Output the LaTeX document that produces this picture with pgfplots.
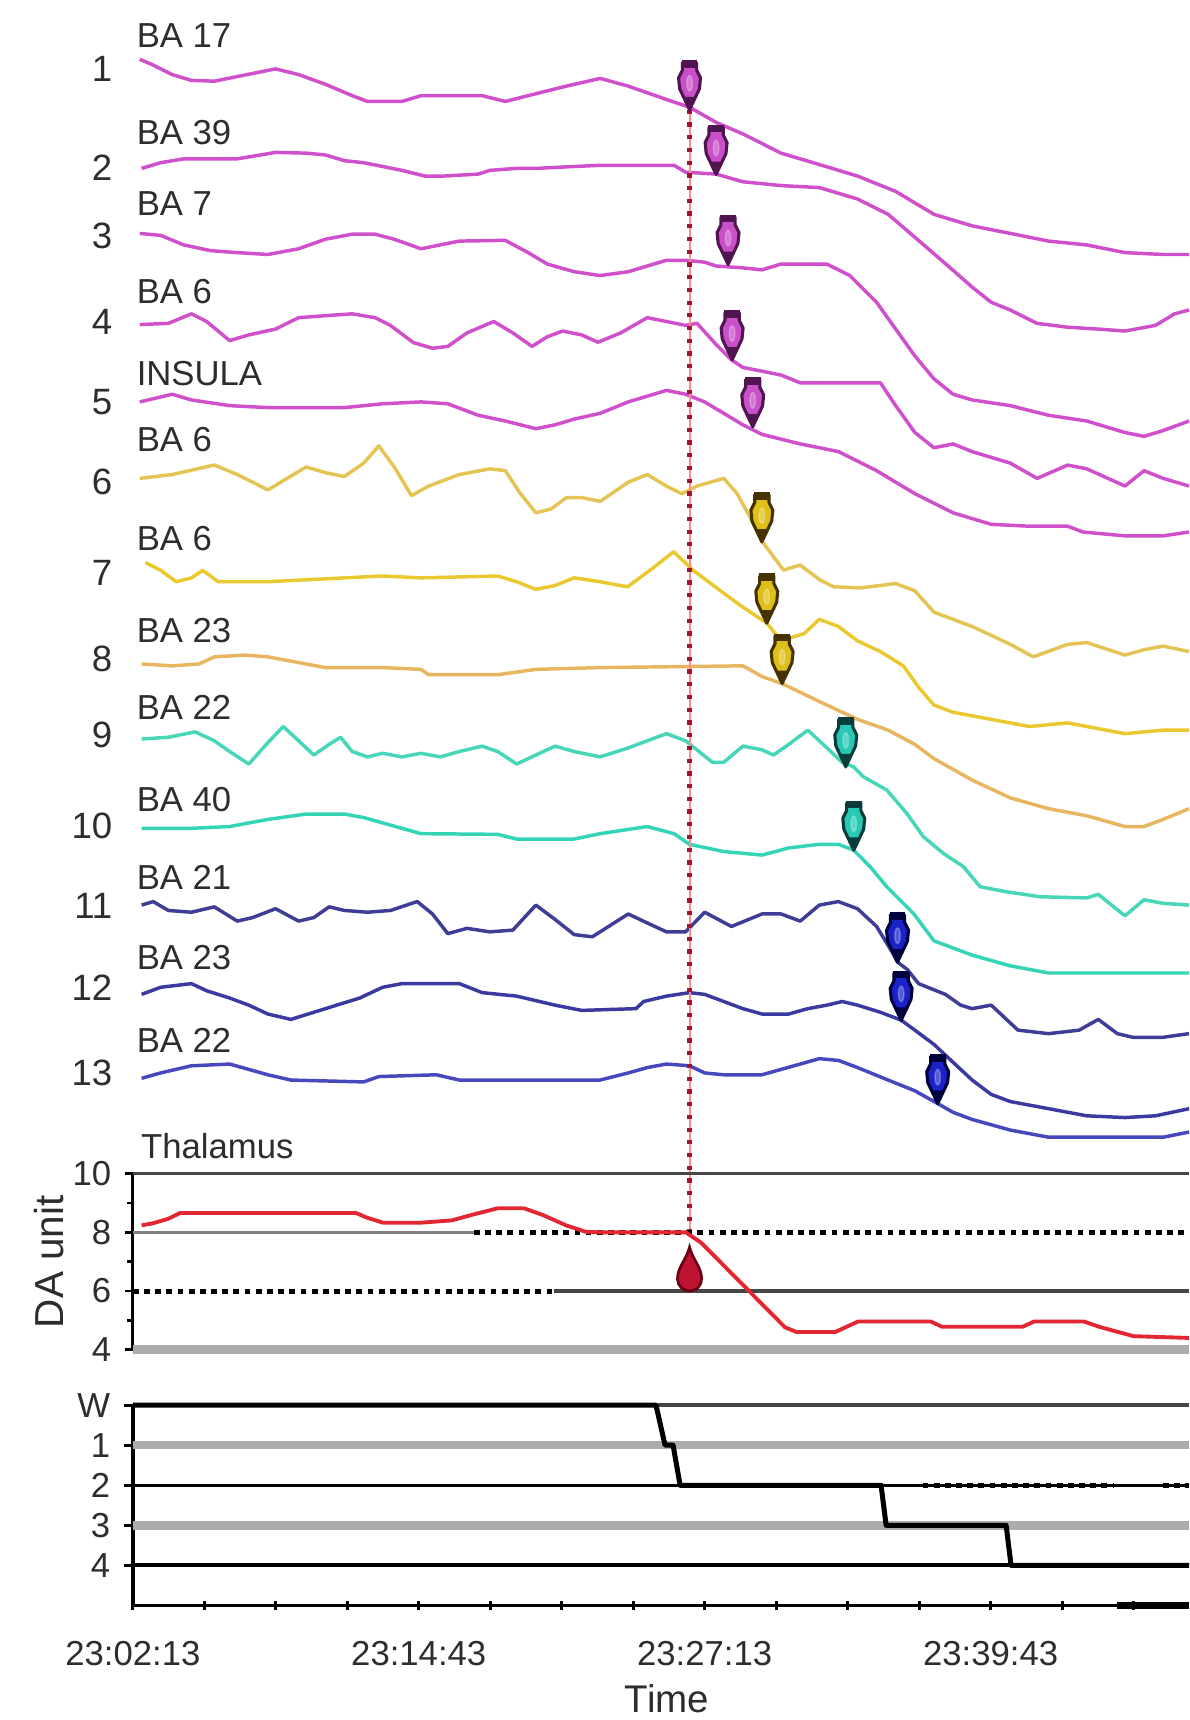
\documentclass[border=0pt]{standalone}
\usepackage{pgfplots}
\pgfplotsset{compat=1.18}
\usepackage{fontspec}
\setmainfont{Liberation Sans}
\definecolor{txt}{RGB}{45,45,45}
\definecolor{cM}{RGB}{208,80,204}
\definecolor{cY1}{RGB}{228,196,84}
\definecolor{cY2}{RGB}{234,200,48}
\definecolor{cY3}{RGB}{232,182,96}
\definecolor{cC1}{RGB}{72,214,184}
\definecolor{cC2}{RGB}{52,212,182}
\definecolor{cB1}{RGB}{62,62,150}
\definecolor{cB2}{RGB}{58,58,160}
\definecolor{cB3}{RGB}{72,72,190}
\definecolor{pMf}{RGB}{200,80,200}\definecolor{pMd}{RGB}{80,20,80}
\definecolor{pYf}{RGB}{222,192,24}\definecolor{pYd}{RGB}{70,50,0}
\definecolor{pCf}{RGB}{40,200,180}\definecolor{pCd}{RGB}{10,60,60}
\definecolor{pBf}{RGB}{25,35,200}\definecolor{pBd}{RGB}{0,0,60}
\definecolor{pRf}{RGB}{190,20,50}\definecolor{pRd}{RGB}{110,0,20}
\definecolor{thal}{RGB}{225,40,50}
\definecolor{vline}{RGB}{160,20,50}
\definecolor{gridD}{RGB}{70,70,70}
\definecolor{gridL}{RGB}{172,172,172}
\newcommand{\defpin}[3]{%
  \pgfdeclareplotmark{#1}{%
    \filldraw[fill=#2, draw=#3, line width=0.8pt, line join=round]
      (0cm,0cm) -- (-0.09cm,0.19cm) -- (-0.10cm,0.29cm) -- (-0.065cm,0.36cm)
      -- (-0.065cm,0.43cm) -- (0.065cm,0.43cm) -- (0.065cm,0.36cm) -- (0.10cm,0.29cm)
      -- (0.09cm,0.19cm) -- cycle;
    \fill[#3] (0cm,0cm) -- (-0.05cm,0.11cm) -- (0.05cm,0.11cm) -- cycle;
    \fill[#3] (-0.065cm,0.39cm) rectangle (0.065cm,0.445cm);
    \fill[white, opacity=0.25] (0cm,0.24cm) ellipse (0.025cm and 0.07cm);
  }}
\defpin{pinM}{pMf}{pMd}
\defpin{pinY}{pYf}{pYd}
\defpin{pinC}{pCf}{pCd}
\defpin{pinB}{pBf}{pBd}
\pgfdeclareplotmark{dropR}{%
  \filldraw[fill=pRf, draw=pRd, line width=0.7pt]
    (0cm,0.40cm) .. controls (-0.03cm,0.28cm) and (-0.11cm,0.22cm) .. (-0.11cm,0.11cm)
    arc[start angle=180, end angle=360, radius=0.11cm]
    .. controls (0.11cm,0.22cm) and (0.03cm,0.28cm) .. (0cm,0.40cm) -- cycle;
}
\begin{document}
\begin{tikzpicture}
\path[use as bounding box] (0,0) rectangle (10.84,15.68);
% ---------------- traces ----------------
\begin{axis}[at={(1.211cm,0cm)}, anchor=south west, scale only axis,
  width=9.629cm, height=15.68cm, xmin=121.1, xmax=1084, ymin=0, ymax=1568,
  y dir=reverse, axis line style={draw=none}, xtick=\empty,
  ytick={63,153,215,293,367,439,522,601,670,753,826,900,978},
  yticklabels={1,2,3,4,5,6,7,8,9,10,11,12,13},
  ytick style={draw=none},
  yticklabel style={anchor=east, inner sep=0pt, xshift=-0.18cm, font=\fontsize{9.5}{10}\selectfont, text=txt},
  clip=false]
\addplot[cM, line width=0.9pt, line join=round] coordinates {(127.4,54.1)(139.6,59.3)(157,68)(174.5,73.3)(195.4,74)(216.3,69.8)(251.2,62.8)(272.2,68)(296.6,76.8)(321,87.2)(335,92.5)(366.4,92.5)(383.8,87.2)(418.7,87.2)(439.6,87.2)(460.6,92.5)(481.5,87.2)(495.4,83.7)(516.4,78.5)(547.1,71.5)(572.7,78.5)(607.5,90.7)(628.5,97.7)(652.8,111.6)(677.2,122.1)(712,139.6)(746.9,150)(781.7,160.5)(816.5,174.5)(851.4,195.4)(886.2,205.9)(921,212.8)(955.9,219.8)(990.7,223.3)(1025.5,230.3)(1060.3,232)(1084,232)};
\addplot[cM, line width=0.9pt, line join=round] coordinates {(129.1,153.5)(146.5,148.3)(167.5,144.8)(191.9,144.8)(216.3,144.8)(237.3,141.3)(251.2,138.9)(279.1,139.6)(296.6,141.3)(314,146.5)(331.5,148.3)(348.9,151.8)(366.4,155.3)(387.3,160.5)(404.7,160.5)(436.1,158.7)(446.6,155.3)(471,153.5)(488.5,153.5)(523.4,151.8)(547.1,150.7)(614.5,150.7)(625,157)(652.8,158.7)(677.2,165.7)(712,169.2)(746.9,171)(781.7,181.4)(809.6,195.4)(834,216.3)(858.3,237.3)(886.2,261.7)(903.6,275.6)(921,282.6)(945.4,294.8)(973.3,298.3)(1001.2,300)(1025.5,301.8)(1053.4,296.6)(1070.8,286.1)(1084,282.6)};
\addplot[cM, line width=0.9pt, line join=round] coordinates {(127.4,212.8)(146.5,214.6)(167.5,223.3)(191.9,228.5)(216.3,230.3)(244.2,232)(272.2,226.8)(296.6,218.1)(321,213.5)(341.9,213.5)(359.4,218.1)(383.8,226.8)(401.2,223.3)(418.7,219.8)(460.6,219.1)(481.5,230.3)(498.9,240.7)(523.4,247.7)(547.1,251.2)(572.7,247.7)(607.5,237.3)(625,237.3)(642.4,239)(652.8,242.5)(677.2,244.2)(694.6,246)(712,240.7)(753.8,240.7)(774.7,251.2)(799.1,275.6)(816.5,300)(834,324.5)(851.4,345.4)(868.8,359.4)(886.2,364.6)(921,369.8)(955.9,378.6)(990.7,383.8)(1025.5,394.3)(1042.9,397.8)(1060.3,392.5)(1084,383.8)};
\addplot[cM, line width=0.9pt, line join=round] coordinates {(127.4,295.9)(153.5,294.8)(174.5,286.1)(188.4,293.1)(209.3,310.5)(226.8,305.3)(251.2,300)(272.2,289.6)(296.6,287.8)(321,286.1)(341.9,289.6)(355.9,296.6)(376.8,312.3)(394.3,317.5)(408.2,315.8)(425.7,303.5)(450.1,293.1)(467.5,303.5)(485,315.8)(498.9,307)(512.9,301.8)(530.3,305.3)(545,312)(565.8,303.5)(590.1,289.6)(607.5,293.1)(625,296.6)(635.4,294.8)(652.8,314)(666.8,328)(677.2,335)(694.6,338.4)(712,341.9)(729.5,349)(753.8,349)(781.7,349)(802.6,349)(816.5,369.8)(834,394.3)(851.4,408.2)(868.8,404.7)(886.2,411.7)(921,422.2)(945.4,436.1)(973.3,424)(990.7,427.4)(1025.5,443.1)(1042.9,429.1)(1060.3,436.1)(1084,443.1)};
\addplot[cM, line width=0.9pt, line join=round] coordinates {(127.4,366.4)(157,359.4)(174.5,364.6)(209.3,369.8)(244.2,371.6)(279.1,371.6)(314,371.6)(348.9,368.1)(383.8,366.4)(408.2,368.1)(436.1,378.6)(460.6,383.8)(488.5,390.8)(505.9,387.3)(523.4,382.1)(547.1,376.8)(572.7,366.4)(607.5,355.9)(625,359.4)(642.4,366.4)(659.8,376.8)(677.2,387.3)(694.6,396)(729.5,404.7)(764.3,411.7)(799.1,429.1)(833.9,450)(868.8,467.5)(903.6,478)(938.4,479.7)(973.3,479.7)(987.2,485)(1025.5,488.5)(1060.3,488.5)(1084,485)};
\addplot[cY1, line width=0.9pt, line join=round] coordinates {(127.4,436.1)(157,432.6)(195.4,423.9)(216.3,432.6)(244.2,446.6)(279.1,425.7)(296.6,430.9)(314,434.4)(331.5,422.2)(345.4,406.5)(359.4,425.7)(375.1,451.8)(390.8,443.1)(418.7,432.6)(446.6,427.4)(460.6,429.1)(474.5,450.1)(488.5,467.5)(502.4,464)(516.4,453.6)(530.3,453.6)(547.1,457.1)(572.7,439.6)(590.1,432.6)(607.5,443.1)(621.5,450.1)(635.4,443.1)(659.8,436.1)(672,450)(684,472)(694.4,493)(714.2,519.7)(729.4,515.1)(747.6,528.8)(759.8,534.9)(784,536)(816.5,532)(834,538.6)(851.4,558.1)(886.2,571.1)(921,587.4)(941.9,598.8)(973.3,587.4)(990.7,585.8)(1025.5,597.2)(1042.9,592.3)(1060.3,589)(1084,594)};
\addplot[cY2, line width=0.9pt, line join=round] coordinates {(132.6,512.9)(146.5,519.9)(160.5,530.3)(174.5,526.8)(184.9,519.9)(198.9,530.3)(244.2,530.3)(314,526.8)(348.9,525.1)(383.8,526.8)(453.6,525.1)(471,530.3)(488.5,537.3)(505.9,533.8)(523.4,526.8)(547.1,530.3)(572,535)(595,518)(614,503)(632,520)(652,535)(675,552)(699,568)(712,584.2)(733,577.6)(746.9,564.6)(764.3,571.1)(781.7,584.2)(802.6,594)(823.5,607)(837.4,626.5)(851.4,642.8)(868.8,649.3)(903.6,655.8)(938.4,662.3)(973.3,659)(990.7,662.3)(1025.5,668.8)(1060.3,665.6)(1084,665.6)};
\addplot[cY3, line width=0.9pt, line join=round] coordinates {(129.1,605.3)(157,607)(181.4,605.3)(195.4,598.8)(223.3,597.2)(244.2,598.8)(279.1,605.3)(296.6,608.6)(348.9,608.6)(383.8,610.2)(390.8,615.1)(453.6,615.1)(488.5,610.2)(547.1,608.6)(677.2,607)(694.6,616.7)(713,623.2)(746.9,639.5)(781.7,655.8)(809.6,665.6)(834,678.6)(851.4,691.6)(886.2,711.1)(921,727.4)(955.9,737.2)(990.7,743.7)(1025.5,753.5)(1042.9,753.5)(1060.3,747)(1084,737.2)};
\addplot[cC1, line width=0.9pt, line join=round] coordinates {(129.1,673.7)(153.5,672.1)(177.9,667.2)(195.4,675.3)(209.3,685.1)(226.8,696.5)(244.2,677)(258.2,662.3)(272.2,675.3)(286.1,688.3)(300,678.6)(310.5,672.1)(321,685.1)(335,690)(348.9,686.7)(366.4,690)(383.8,686.7)(401.2,690)(418.7,685.1)(439.6,680.2)(453.6,685.1)(471,696.5)(488.5,688.3)(505.9,680.2)(523.4,685.1)(547.1,690)(572.7,681.8)(607.5,668.8)(625,675.3)(649.4,694.9)(659.8,694.9)(677.2,680.2)(694.6,683.5)(705.1,688.3)(719,678.6)(736.4,665.6)(753.8,681.8)(767.8,695)(778,699)(787.1,708.1)(808.4,720.2)(826.6,741.5)(841.8,762.8)(860,778)(878.3,790.1)(893.5,808.4)(917.8,813)(948.2,817.5)(990.7,818.6)(1001.2,815.3)(1025.5,834.9)(1042.9,820.2)(1060.3,823.5)(1084,825.1)};
\addplot[cC2, line width=0.9pt, line join=round] coordinates {(129.1,755.1)(174.5,755.1)(209.3,753.5)(244.2,747)(279.1,742.1)(314,742.1)(331.5,745.3)(348.9,750.2)(383.8,760)(453.6,760.6)(471,764.9)(523.4,764.9)(547.1,760)(590.1,753.5)(614.5,760)(628.5,769.7)(659.8,776.3)(694.6,779.5)(719,773)(746.9,769.7)(764.3,769.7)(778.2,775)(793.2,790.1)(808.4,808.4)(820.5,820.5)(832.7,832.7)(851.4,857.7)(886.2,870.7)(921,880.5)(955.9,887)(1025.5,887)(1084,887)};
\addplot[cB1, line width=0.9pt, line join=round] coordinates {(129.1,825.1)(139.6,821.9)(153.5,830)(174.5,831.6)(195.4,826.7)(216.3,839.7)(230.3,836.5)(251.2,828.4)(272.2,839.7)(286.1,836.5)(300,826.7)(314,830)(335,831.6)(355.9,830)(380.3,821.9)(394.3,833.2)(408.2,851.1)(425.7,846.3)(446.6,849.5)(467.5,847.9)(488.5,825.1)(505.9,838.1)(523.4,852)(540,854)(572.7,833.2)(590.1,841.4)(607.5,849.5)(625,849.5)(642.4,831.6)(666.8,844.6)(694.6,833.2)(712,833.2)(729.5,839.7)(746.9,825.1)(764.3,821.9)(781.7,828.4)(799.1,844.6)(813,867.4)(818.3,877.2)(827,883.7)(837.4,896.7)(861.8,906.5)(875.8,916.3)(886.2,919.5)(903.6,916.3)(928,939.1)(955.9,942.3)(983.8,939.1)(1001.2,929.3)(1018.6,942.3)(1032.5,945.6)(1060.3,945.6)(1084,942.3)};
\addplot[cB2, line width=0.9pt, line join=round] coordinates {(129.1,906.5)(146.5,900)(174.5,896.7)(188.4,903.2)(209.3,909.8)(226.8,916.3)(244.2,924.4)(265.2,929.3)(286.1,922.8)(307,916.3)(328,909.8)(348.9,900)(366.4,896.7)(418.7,896.7)(439.6,904.9)(471,908.1)(505.9,916.3)(530.3,921.1)(579.7,919.5)(586.7,913)(607.5,908.1)(628.5,904.9)(642.4,906.5)(659.8,913)(677.2,919.5)(694.6,924.4)(719,924.4)(736.4,919.5)(753.8,916.3)(767.8,913)(781.7,916.3)(802.6,922.8)(821.5,930)(834,939.1)(851.4,952.1)(868.8,968.4)(886.2,984.6)(903.6,997.7)(921,1004.2)(955.9,1010.7)(990.7,1017.2)(1025.5,1018.8)(1053.4,1017.2)(1084,1010.7)};
\addplot[cB3, line width=0.9pt, line join=round] coordinates {(129.1,983)(146.5,978.1)(174.5,971.6)(209.3,970)(226.8,974.9)(244.2,979.8)(265.2,984.6)(331.5,986.3)(345.4,981.4)(397.8,979.8)(418.7,984.6)(547.1,984.6)(572.7,978.1)(590.1,973.2)(607.5,970)(628.5,971.6)(642.4,978.1)(659.8,979.8)(694.6,979.8)(712,974.9)(729.5,970)(746.9,965.1)(764.3,966.7)(781.7,973.2)(809.6,984.6)(834,994.4)(854.8,1006)(868.8,1014)(886.2,1020.5)(921,1030.2)(955.9,1036.7)(1025.5,1036.7)(1060.3,1036.7)(1084,1032)};
% onset line
\addplot[red!45, line width=0.5pt] coordinates {(628.6,100) (628.6,1123.5)};
\addplot[vline, line width=1.1pt, dash pattern=on 1.1pt off 2.2pt] coordinates {(628.6,100) (628.6,1123.5)};
% onset markers
\addplot[only marks, mark=pinM] coordinates {(628.6,100)(652.8,159)(663.7,241)(667.4,328)(686.2,389)};
\addplot[only marks, mark=pinY] coordinates {(694.5,494)(699,568)(713,623)};
\addplot[only marks, mark=pinC] coordinates {(771,699)(778.3,775)};
\addplot[only marks, mark=pinB] coordinates {(818.2,877)(821.5,930)(854.8,1006)};
% region names
\begin{scope}[every node/.style={anchor=west, inner sep=0pt, text=txt, font=\fontsize{9}{10}\selectfont}]
\node at (axis cs:124,32) {BA 17};
\node at (axis cs:124,121) {BA 39};
\node at (axis cs:124,186) {BA 7};
\node at (axis cs:124,266) {BA 6};
\node at (axis cs:124,341) {INSULA};
\node at (axis cs:124,401) {BA 6};
\node at (axis cs:124,491) {BA 6};
\node at (axis cs:124,575) {BA 23};
\node at (axis cs:124,645) {BA 22};
\node at (axis cs:124,729) {BA 40};
\node at (axis cs:124,800) {BA 21};
\node at (axis cs:124,873) {BA 23};
\node at (axis cs:124,948) {BA 22};
\end{scope}
\end{axis}
% ---------------- thalamus ----------------
\begin{axis}[at={(1.211cm,3.376cm)}, anchor=south west, scale only axis,
  width=9.629cm, height=1.604cm, xmin=121.1, xmax=1084, ymin=4, ymax=10,
  axis x line=none, axis y line*=left, axis line style={-, black, line width=0.8pt},
  ytick={4,6,8,10}, yticklabels={4,6,8,10}, minor ytick={5,7,9},
  tick align=outside, major tick length=0.07cm, minor tick length=0.05cm,
  tick style={black, line width=0.7pt},
  yticklabel style={anchor=east, inner sep=0pt, xshift=-0.12cm, font=\fontsize{9}{10}\selectfont, text=txt},
  /pgf/number format/assume math mode=true, clip=false]
\addplot[gridD, line width=0.9pt] coordinates {(121.1,10) (1084,10)};
\addplot[gray, line width=0.6pt] coordinates {(121.1,8) (432,8)};
\addplot[black, line width=1.3pt, dash pattern=on 1.5pt off 1.4pt] coordinates {(432,8) (1084,8)};
\addplot[black, line width=1.3pt, dash pattern=on 1.5pt off 1.4pt] coordinates {(121.1,6) (505,6)};
\addplot[gridD, line width=0.8pt] coordinates {(505,6) (1084,6)};
\addplot[gridL, line width=2.2pt] coordinates {(121.1,4) (1084,4)};
\addplot[thal, line width=1pt, line join=round] coordinates {(129.1,8.24)(139.5,8.31)(153.2,8.46)(164.1,8.66)(324.6,8.66)(334.6,8.50)(349.2,8.33)(383.8,8.33)(412.1,8.41)(429.4,8.59)(453.6,8.82)(477.7,8.82)(495,8.59)(516,8.24)(533.8,8.02)(547,8.0)(625.2,8.0)(639.1,7.65)(715.7,4.76)(726.4,4.6)(761.3,4.6)(782.2,4.96)(848.4,4.96)(858.8,4.78)(932.2,4.78)(942.7,4.96)(988,4.96)(1002,4.78)(1033.3,4.46)(1084,4.40)};
\addplot[only marks, mark=dropR] coordinates {(628.6,6.0)};
\node[anchor=base west, inner sep=0pt, text=txt, font=\fontsize{9}{10}\selectfont] at (axis cs:128,10) [yshift=0.14cm] {Thalamus};
\node[rotate=90, anchor=center, inner sep=0pt, text=txt, font=\fontsize{10.5}{11}\selectfont] at ([xshift=-0.76cm]rel axis cs:0,0.5) {DA unit};
\end{axis}
% ---------------- hypnogram ----------------
\begin{axis}[at={(1.211cm,1.044cm)}, anchor=south west, scale only axis,
  width=9.629cm, height=1.826cm, xmin=121.1, xmax=1084, ymin=-5, ymax=0,
  axis x line*=bottom, axis y line*=left, axis line style={-, black, line width=0.9pt},
  xtick={121.1,186.26,251.42,316.58,381.74,446.9,512.06,577.22,642.38,707.54,772.7,837.86,903.02,968.18,1033.34},
  xticklabels={23:02:13,,,,23:14:43,,,,23:27:13,,,,23:39:43,,},
  ytick={0,-1,-2,-3,-4}, yticklabels={W,1,2,3,4},
  x tick style={black, line width=0.8pt}, y tick style={black, line width=0.7pt},
  xtick align=center, ytick align=outside, major tick length=0.08cm,
  xticklabel style={anchor=center, inner sep=0pt, yshift=-0.40cm, font=\fontsize{9}{10}\selectfont, text=txt},
  yticklabel style={anchor=east, inner sep=0pt, xshift=-0.12cm, font=\fontsize{9}{10}\selectfont, text=txt},
  clip=false]
\addplot[gridD, line width=0.9pt] coordinates {(121.1,0) (1084,0)};
\addplot[gridL, line width=2pt] coordinates {(121.1,-1) (1084,-1)};
\addplot[black, line width=0.7pt] coordinates {(121.1,-2) (1084,-2)};
\addplot[black, line width=1.4pt, dash pattern=on 1.5pt off 1.4pt] coordinates {(841,-2) (1015,-2)};
\addplot[black, line width=1.4pt, dash pattern=on 1.5pt off 1.4pt] coordinates {(1060,-2) (1084,-2)};
\addplot[gridL, line width=2.2pt] coordinates {(121.1,-3) (1084,-3)};
\addplot[black, line width=1pt] coordinates {(121.1,-4) (1084,-4)};
\addplot[black, line width=1.3pt, line join=round] coordinates {(121.1,0)(598,0)(606.3,-1)(613.6,-1)(620,-2)(803.2,-2)(807.8,-3)(917.2,-3)(921.7,-4)(1084,-4)};
\addplot[black, line width=1.8pt] coordinates {(1018,-5) (1084,-5)};
\node[anchor=center, inner sep=0pt, text=txt, font=\fontsize{10}{11}\selectfont] at ([yshift=-0.85cm]rel axis cs:0.5057,0) {Time};
\end{axis}
\end{tikzpicture}
\end{document}
